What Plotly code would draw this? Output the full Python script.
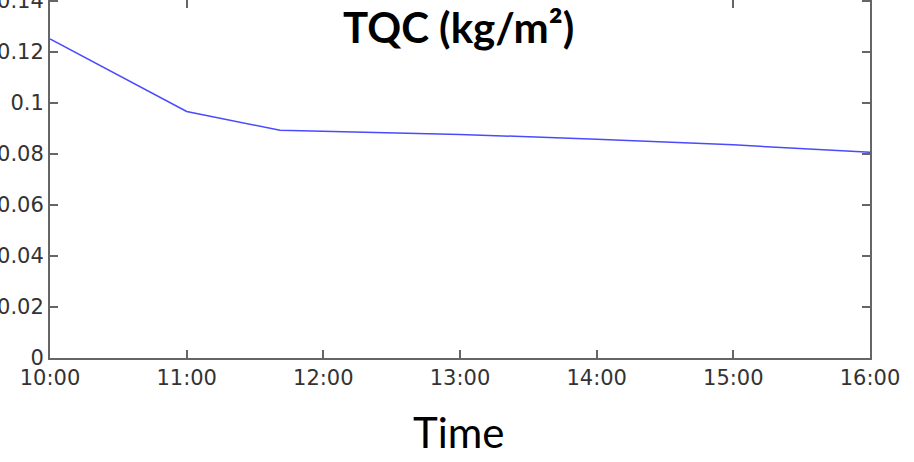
import plotly.graph_objects as go

times = ["2020-01-01 10:00", "2020-01-01 11:00", "2020-01-01 11:41",
         "2020-01-01 12:00", "2020-01-01 13:00", "2020-01-01 14:00",
         "2020-01-01 15:00", "2020-01-01 16:00"]
tqc = [0.1251, 0.0967, 0.0893, 0.0889, 0.0877, 0.0858, 0.0836, 0.0807]
y_ticks = [0, 0.02, 0.04, 0.06, 0.08, 0.1, 0.12, 0.14]
y_labels = ["0", "0.02", "0.04", "0.06", "0.08", "0.1", "0.12", "0.14"]
title_text = "TQC (kg/m²)"
xlabel_text = "Time"

fig = go.Figure()
fig.add_trace(go.Scatter(x=times, y=tqc, mode="lines",
                         line=dict(color="#4a4aff", width=1.5),
                         showlegend=False, hoverinfo="skip", cliponaxis=False))

axis_common = dict(showline=True, linecolor="#666666", linewidth=2, mirror="ticks",
                   ticks="inside", ticklen=8, tickcolor="#666666", tickwidth=1.5,
                   showgrid=False, zeroline=False, automargin=False,
                   ticklabeloverflow="allow",
                   tickfont=dict(family="DejaVu Sans", size=21, color="#333333"))

fig.update_layout(
    width=914, height=462,
    margin=dict(l=50, r=44, t=0, b=104),
    plot_bgcolor="white", paper_bgcolor="white",
    xaxis=dict(range=["2020-01-01 10:00", "2020-01-01 16:00"], dtick=3600000,
               tickformat="%H:%M", **axis_common),
    yaxis=dict(range=[0, 0.1404], tickvals=y_ticks, ticktext=y_labels, **axis_common),
    shapes=[dict(type="rect", xref="paper", yref="paper",
                 x0=(308 - 50) / 820, x1=(606 - 50) / 820,
                 y0=1 - 72 / 358, y1=1.02, fillcolor="white",
                 line=dict(width=0), layer="above")],
    annotations=[
        dict(text=f"<b>{title_text}</b>", xref="paper", yref="paper",
             x=(458 - 50) / 820, y=1 - 27 / 358, xanchor="center", yanchor="middle",
             showarrow=False, font=dict(family="Lato", size=42, color="black")),
        dict(text=xlabel_text, xref="paper", yref="paper",
             x=(458 - 50) / 820, y=(358 - 432) / 358, xanchor="center", yanchor="middle",
             showarrow=False, font=dict(family="Lato", size=42, color="black")),
    ],
)

fig.write_html("out.html", config={"displayModeBar": False},
               post_script="document.body.style.margin='0';document.body.style.overflow='hidden';")
